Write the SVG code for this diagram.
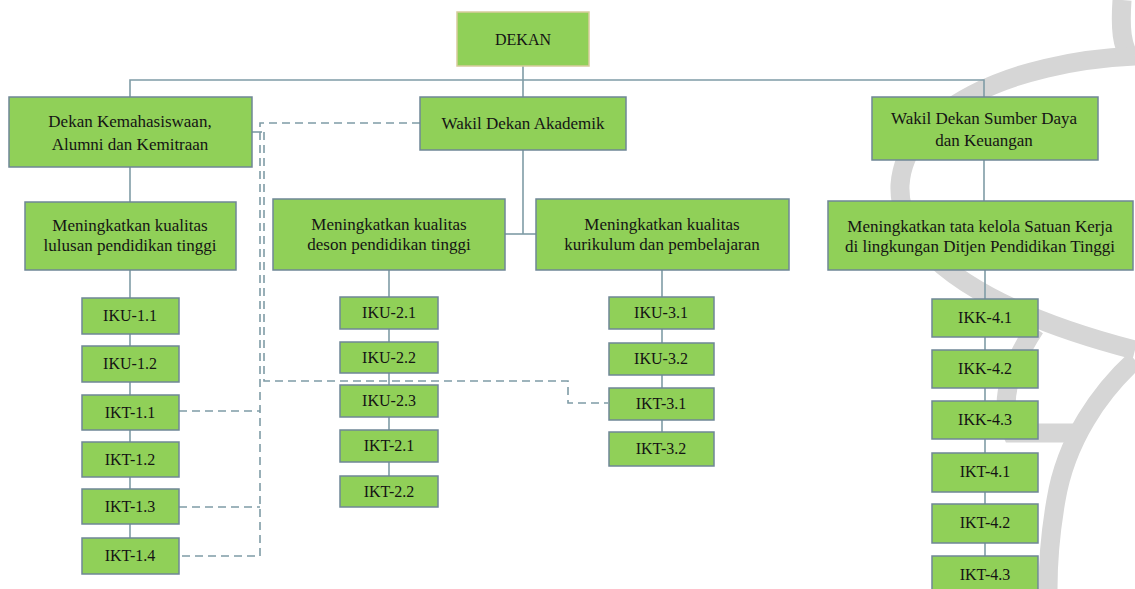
<svg xmlns="http://www.w3.org/2000/svg" width="1135" height="589" viewBox="0 0 1135 589">
<style>
.wm{fill:none;stroke:#d6d6d6;stroke-width:19}
.n{fill:#90d058;stroke:#6f8796;stroke-width:1.5}
.t{font-family:"Liberation Serif","Times New Roman",serif;font-size:16px;fill:#141414;text-anchor:middle}
.l{font-size:17px}
.c{fill:none;stroke:#7f9ca6;stroke-width:1.6}
.d{fill:none;stroke:#7f9ca6;stroke-width:1.6;stroke-dasharray:8 5}
</style>
<rect width="1135" height="589" fill="#ffffff"/>
<g id="watermark">
<path class="wm" d="M1122,0 C1120,30 1122,45 1130,58"/>
<path class="wm" d="M1135,56 C1010,62 905,110 900,185 C897,260 1000,315 1135,350"/>
<path class="wm" d="M1035,328 Q993,392 1012,433 H1082"/>
<path class="wm" d="M1135,360 C1100,392 1066,440 1056,500 C1049,540 1048,570 1048,589"/>
</g>
<g id="connectors">
<path class="c" d="M130,97 V80 H984 V97"/>
<path class="c" d="M523,66 V97"/>
<path class="c" d="M130,167 V202"/>
<path class="c" d="M130,270 V556"/>
<path class="c" d="M523,150 V234"/>
<path class="c" d="M505,234 H536"/>
<path class="c" d="M389,270 V490"/>
<path class="c" d="M662,270 V448"/>
<path class="c" d="M984,160 V201"/>
<path class="c" d="M985,270 V589"/>
<path class="c" d="M252,132 H262"/>
<path class="d" d="M420,123 H260 V556 H179"/>
<path class="d" d="M264,132 V381 H568 V403 H608"/>
<path class="d" d="M179,411 H260"/>
<path class="d" d="M179,507 H260"/>
</g>
<g id="dekan"><rect x="457" y="12" width="132" height="54" fill="#90d058" stroke="#d8cc9c" stroke-width="1.5"/><text class="t" x="523" y="45">DEKAN</text></g>
<g id="wd-kemahasiswaan"><rect class="n" x="9" y="97" width="243" height="70"/><text class="t l" x="130" y="127">Dekan Kemahasiswaan,</text><text class="t l" x="130" y="150">Alumni dan Kemitraan</text></g>
<g id="wd-akademik"><rect class="n" x="420" y="97" width="206" height="53"/><text class="t l" x="523" y="129">Wakil Dekan Akademik</text></g>
<g id="wd-sumberdaya"><rect class="n" x="872" y="97" width="226" height="63"/><text class="t l" x="984" y="124">Wakil Dekan Sumber Daya</text><text class="t l" x="984" y="146">dan Keuangan</text></g>
<g id="s1"><rect class="n" x="25" y="202" width="211" height="68"/><text class="t l" x="130" y="231">Meningkatkan kualitas</text><text class="t l" x="130" y="251">lulusan pendidikan tinggi</text></g>
<g id="s2"><rect class="n" x="273" y="199" width="232" height="71"/><text class="t l" x="389" y="230">Meningkatkan kualitas</text><text class="t l" x="389" y="250">deson pendidikan tinggi</text></g>
<g id="s3"><rect class="n" x="536" y="199" width="253" height="71"/><text class="t l" x="662" y="230">Meningkatkan kualitas</text><text class="t l" x="662" y="250">kurikulum dan pembelajaran</text></g>
<g id="s4"><rect class="n" x="828" y="201" width="305" height="69"/><text class="t l" x="980" y="232">Meningkatkan tata kelola Satuan Kerja</text><text class="t l" x="980" y="252">di lingkungan Ditjen Pendidikan Tinggi</text></g>
<g id="iku-1-1"><rect class="n" x="82" y="298" width="97" height="36"/><text class="t" x="130" y="321">IKU-1.1</text></g>
<g id="iku-1-2"><rect class="n" x="82" y="346" width="97" height="36"/><text class="t" x="130" y="369">IKU-1.2</text></g>
<g id="ikt-1-1"><rect class="n" x="82" y="395" width="97" height="35"/><text class="t" x="130" y="418">IKT-1.1</text></g>
<g id="ikt-1-2"><rect class="n" x="82" y="442" width="97" height="35"/><text class="t" x="130" y="465">IKT-1.2</text></g>
<g id="ikt-1-3"><rect class="n" x="82" y="489" width="97" height="35"/><text class="t" x="130" y="512">IKT-1.3</text></g>
<g id="ikt-1-4"><rect class="n" x="82" y="538" width="97" height="36"/><text class="t" x="130" y="561">IKT-1.4</text></g>
<g id="iku-2-1"><rect class="n" x="340" y="297" width="98" height="32"/><text class="t" x="389" y="318">IKU-2.1</text></g>
<g id="iku-2-2"><rect class="n" x="340" y="342" width="98" height="31"/><text class="t" x="389" y="363">IKU-2.2</text></g>
<g id="iku-2-3"><rect class="n" x="340" y="385" width="98" height="32"/><text class="t" x="389" y="406">IKU-2.3</text></g>
<g id="ikt-2-1"><rect class="n" x="340" y="430" width="98" height="32"/><text class="t" x="389" y="451">IKT-2.1</text></g>
<g id="ikt-2-2"><rect class="n" x="340" y="476" width="98" height="31"/><text class="t" x="389" y="497">IKT-2.2</text></g>
<g id="iku-3-1"><rect class="n" x="609" y="297" width="105" height="32"/><text class="t" x="661" y="318">IKU-3.1</text></g>
<g id="iku-3-2"><rect class="n" x="609" y="343" width="105" height="32"/><text class="t" x="661" y="364">IKU-3.2</text></g>
<g id="ikt-3-1"><rect class="n" x="609" y="388" width="105" height="32"/><text class="t" x="661" y="409">IKT-3.1</text></g>
<g id="ikt-3-2"><rect class="n" x="609" y="432" width="105" height="34"/><text class="t" x="661" y="454">IKT-3.2</text></g>
<g id="ikk-4-1"><rect class="n" x="932" y="299" width="106" height="38"/><text class="t" x="985" y="323">IKK-4.1</text></g>
<g id="ikk-4-2"><rect class="n" x="932" y="350" width="106" height="38"/><text class="t" x="985" y="374">IKK-4.2</text></g>
<g id="ikk-4-3"><rect class="n" x="932" y="401" width="106" height="38"/><text class="t" x="985" y="425">IKK-4.3</text></g>
<g id="ikt-4-1"><rect class="n" x="932" y="453" width="106" height="39"/><text class="t" x="985" y="477">IKT-4.1</text></g>
<g id="ikt-4-2"><rect class="n" x="932" y="504" width="106" height="39"/><text class="t" x="985" y="528">IKT-4.2</text></g>
<g id="ikt-4-3"><rect class="n" x="932" y="556" width="106" height="40"/><text class="t" x="985" y="580">IKT-4.3</text></g>
</svg>
